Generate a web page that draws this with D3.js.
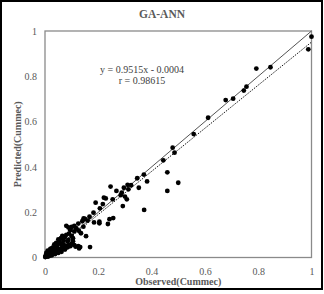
<!DOCTYPE html>
<html><head><meta charset="utf-8">
<script src="https://cdn.jsdelivr.net/npm/d3@7"></script>
<style>body{margin:0;background:#fff}svg{display:block}</style>
</head><body>
<svg id="c" width="324" height="294"></svg>
<script>
const title = "GA-ANN";
const xTitle = "Observed(Cummec)";
const yTitle = "Predicted(Cummec)";
const tickValues = [0, 0.2, 0.4, 0.6, 0.8, 1];
const tickLabels = ["0", "0.2", "0.4", "0.6", "0.8", "1"];
const equationText = ["y = 0.9515x - 0.0004", "r = 0.98615"];
const slope = 0.9515, intercept = -0.0004;
const observed = [
1.000,0.988,0.846,0.793,0.756,0.746,0.706,0.678,0.612,0.558,
0.486,0.479,0.444,0.459,0.500,0.459,0.372,0.371,0.383,0.346,
0.352,0.323,0.310,0.313,0.296,0.288,0.284,0.300,0.307,0.292,
0.246,0.268,0.254,0.228,0.221,0.190,0.217,0.206,0.182,0.204,
0.242,0.256,0.236,0.204,0.184,0.160,0.145,0.167,0.144,0.127,
0.154,0.169,0.135,0.132,0.125,0.128,0.080,0.088,0.095,0.110,
0.115,0.125,0.140,0.150,0.118,0.110,0.100,0.095,0.090,0.100,
0.105,0.088,0.080,0.075,0.070,0.065,0.060,0.055,0.050,0.048,
0.042,0.040,0.035,0.030,0.028,0.025,0.020,0.018,0.015,0.012,
0.010,0.008,0.006,0.005,0.004,0.003,0.002,0.001,0.015,0.020,
0.025,0.030,0.035,0.040,0.045,0.050,0.055,0.060,0.065,0.070,
0.075,0.080,0.085,0.090,0.095,0.100,0.110,0.115,0.060,0.045,
0.030,0.020,0.010,0.008,0.012,0.018,0.022,0.026,0.038,0.050,
0.062,0.070,0.085,0.105
];
const predicted = [
0.975,0.919,0.840,0.834,0.754,0.737,0.701,0.695,0.617,0.545,
0.463,0.485,0.429,0.376,0.330,0.294,0.210,0.366,0.336,0.350,
0.308,0.319,0.321,0.301,0.308,0.286,0.275,0.269,0.257,0.227,
0.313,0.294,0.257,0.261,0.264,0.242,0.236,0.217,0.198,0.158,
0.169,0.174,0.148,0.151,0.155,0.163,0.173,0.180,0.136,0.118,
0.094,0.046,0.107,0.046,0.050,0.040,0.140,0.133,0.125,0.140,
0.130,0.150,0.160,0.170,0.128,0.115,0.135,0.120,0.105,0.095,
0.085,0.078,0.100,0.090,0.075,0.095,0.085,0.070,0.080,0.060,
0.065,0.050,0.058,0.045,0.035,0.040,0.030,0.022,0.025,0.018,
0.012,0.015,0.008,0.020,0.005,0.010,0.003,0.002,0.010,0.012,
0.018,0.020,0.025,0.028,0.030,0.035,0.030,0.040,0.045,0.040,
0.035,0.050,0.045,0.055,0.050,0.060,0.055,0.048,0.060,0.045,
0.032,0.038,0.030,0.005,0.004,0.008,0.015,0.010,0.015,0.020,
0.025,0.058,0.070,0.072
];

const svg = d3.select("#c");
const L = 45, R = 311.5, T = 31, B = 257.5;
const x = d3.scaleLinear().domain([0, 1]).range([L, R]);
const y = d3.scaleLinear().domain([0, 1]).range([B, T]);
const gray = "#595959";
const serif = "'Liberation Serif','Times New Roman',serif";

svg.append("rect").attr("x", 1).attr("y", 1).attr("width", 321).attr("height", 288)
  .attr("fill", "#fff").attr("stroke", "#000").attr("stroke-width", 2);

svg.append("text").attr("x", 162).attr("y", 18).attr("text-anchor", "middle")
  .attr("font-family", serif).attr("font-weight", "bold").attr("font-size", 11.5)
  .attr("fill", gray).text(title);

svg.append("rect").attr("x", L).attr("y", T).attr("width", R - L).attr("height", B - T)
  .attr("fill", "none").attr("stroke", "#8a8a8a").attr("stroke-width", 1.3);

const xAxis = svg.append("g").attr("transform", `translate(0,${B})`)
  .call(d3.axisBottom(x).tickValues(tickValues).tickSize(0).tickPadding(10)
    .tickFormat((d, i) => tickLabels[i]));
const yAxis = svg.append("g").attr("transform", `translate(${L},0)`)
  .call(d3.axisLeft(y).tickValues(tickValues).tickSize(0).tickPadding(8)
    .tickFormat((d, i) => tickLabels[i]));
[xAxis, yAxis].forEach(g => {
  g.select(".domain").remove();
  g.selectAll("text").attr("font-family", serif).attr("font-size", 10).attr("fill", gray);
});

svg.append("text").attr("x", (L + R) / 2).attr("y", 285).attr("text-anchor", "middle")
  .attr("font-family", serif).attr("font-weight", "bold").attr("font-size", 10)
  .attr("fill", gray).text(xTitle);
svg.append("text").attr("transform", `translate(21,${(T + B) / 2}) rotate(-90)`)
  .attr("text-anchor", "middle")
  .attr("font-family", serif).attr("font-weight", "bold").attr("font-size", 10)
  .attr("fill", gray).text(yTitle);

// 1:1 line
svg.append("line").attr("x1", x(0)).attr("y1", y(0)).attr("x2", x(1)).attr("y2", y(1))
  .attr("stroke", "#404040").attr("stroke-width", 0.9);
// trend line
svg.append("line").attr("x1", x(0)).attr("y1", y(intercept)).attr("x2", x(1)).attr("y2", y(slope + intercept))
  .attr("stroke", "#000").attr("stroke-width", 1).attr("stroke-dasharray", "1.2,1.2");

const pts = observed.map((o, i) => [o, predicted[i]]);
svg.append("g").selectAll("circle").data(pts).join("circle")
  .attr("cx", d => x(d[0])).attr("cy", d => y(d[1])).attr("r", 2.4).attr("fill", "#000");

svg.append("g").selectAll("text").data(equationText).join("text")
  .attr("x", 142).attr("y", (d, i) => 73 + i * 10.5).attr("text-anchor", "middle")
  .attr("font-family", serif).attr("font-size", 10).attr("fill", "#404040").text(d => d);
</script>
</body></html>
